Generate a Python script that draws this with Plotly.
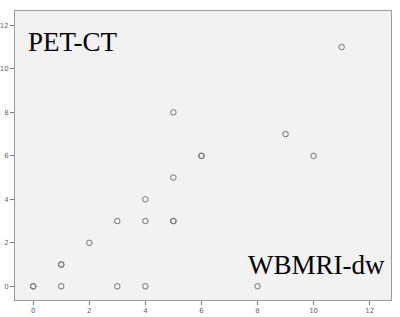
import plotly.graph_objects as go

# Data: (WBMRI-dw, PET-CT) pairs; duplicates are drawn on top of each other
x_vals = [0, 0, 1, 1, 1, 2, 3, 3, 4, 4, 4, 5, 5, 5, 5, 6, 6, 8, 9, 10, 11]
y_vals = [0, 0, 0, 1, 1, 2, 0, 3, 0, 3, 4, 3, 3, 5, 8, 6, 6, 0, 7, 6, 11]
tick_vals = [0, 2, 4, 6, 8, 10, 12]
tick_text = ["0", "2", "4", "6", "8", "10", "12"]

fig = go.Figure()
fig.add_trace(go.Scatter(
    x=x_vals, y=y_vals, mode="markers",
    marker=dict(symbol="circle-open", size=5.5, color="#707070", line=dict(width=1)),
    showlegend=False, hoverinfo="skip",
))

axis_common = dict(
    showgrid=False, zeroline=False, showline=True, linecolor="#9a9a9a", linewidth=1,
    ticks="outside", ticklen=4, tickcolor="#7a7a7a", tickwidth=1,
    tickvals=tick_vals, ticktext=tick_text,
    tickfont=dict(family="DejaVu Sans", size=7, color="#666666"),
    mirror=True, automargin=False,
)
fig.update_xaxes(range=[-0.65, 12.76], **axis_common)
fig.update_yaxes(range=[-0.63, 12.66], **axis_common)

fig.add_annotation(text="PET-CT", xref="paper", yref="paper", x=0.03, y=0.953,
                   xanchor="left", yanchor="top", showarrow=False,
                   font=dict(family="Liberation Serif", size=27, color="black"))
fig.add_annotation(text="WBMRI-dw", xref="paper", yref="paper", x=0.99, y=0.062,
                   xanchor="right", yanchor="bottom", showarrow=False,
                   font=dict(family="Liberation Serif", size=27, color="black"))

fig.update_layout(
    width=400, height=317,
    margin=dict(l=15, r=9, t=11, b=17),
    plot_bgcolor="#f2f2f2", paper_bgcolor="white",
)
fig.write_html("out.html")
